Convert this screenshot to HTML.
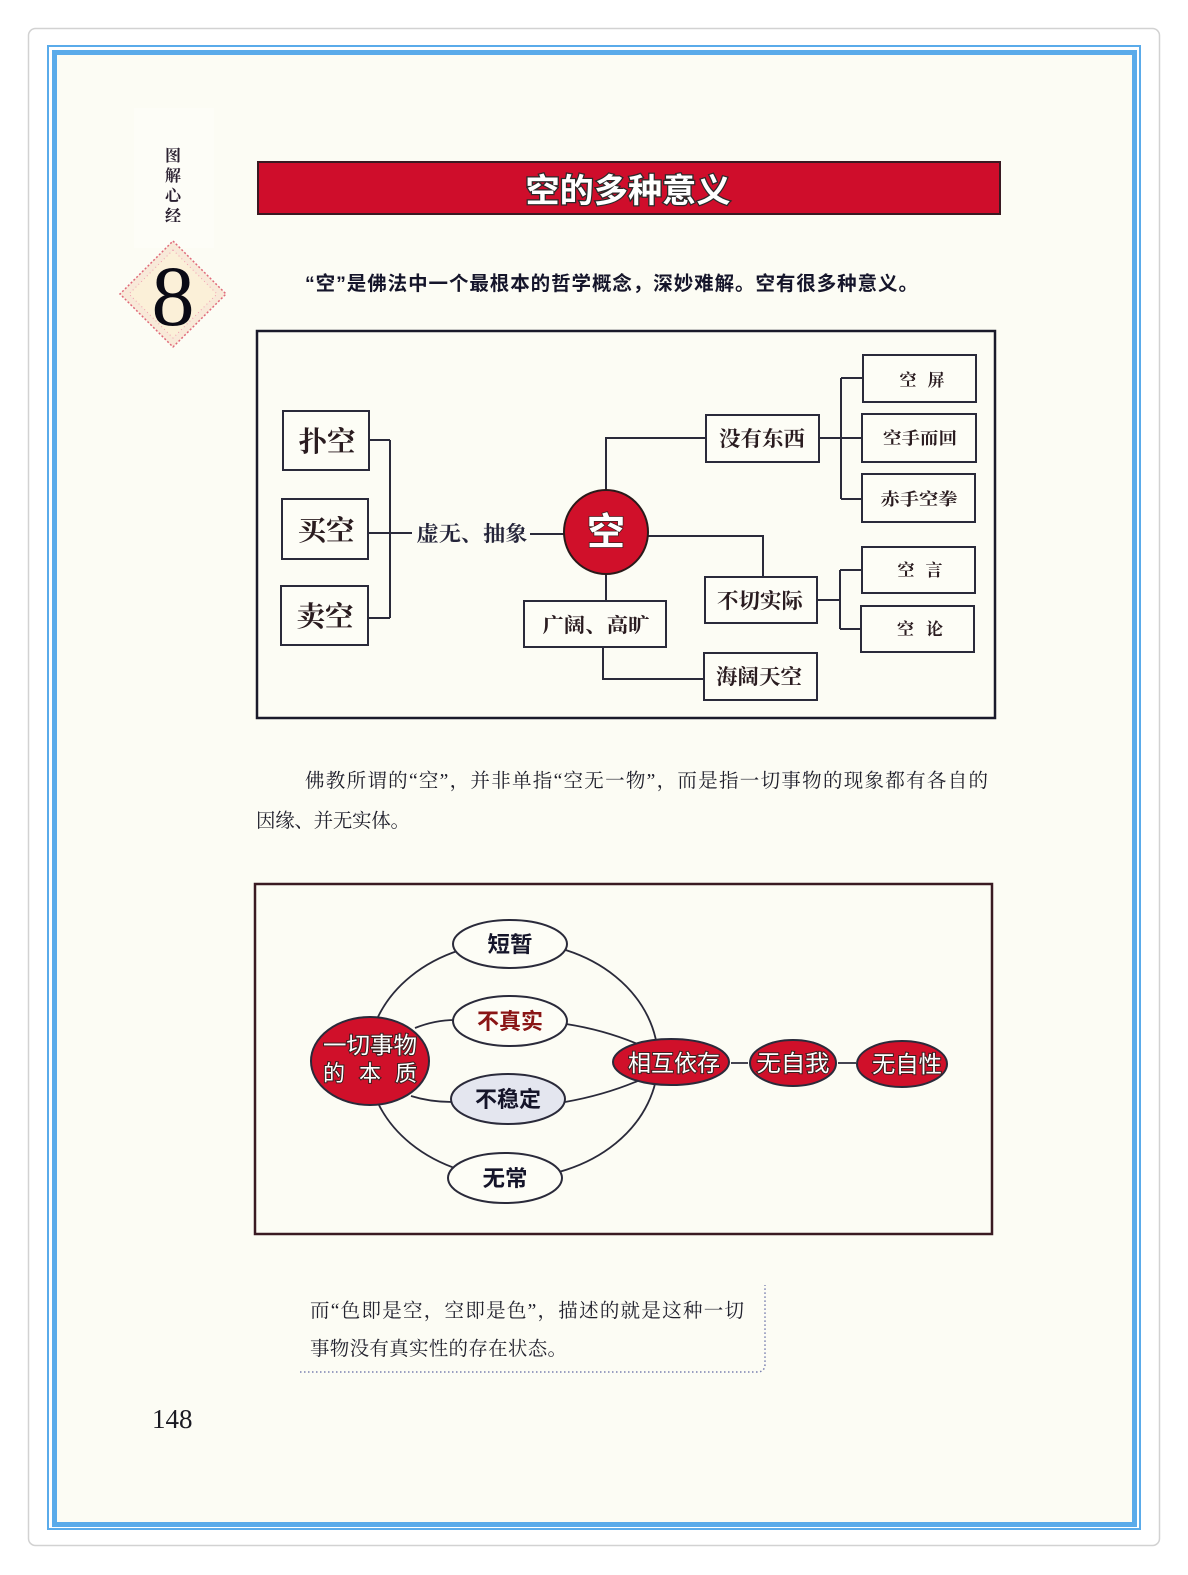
<!DOCTYPE html>
<html><head><meta charset="utf-8">
<style>
html,body{margin:0;padding:0;background:#fff;}
svg{display:block}
.serif{font-family:"Liberation Serif","Noto Serif CJK SC",serif;}
.sans{font-family:"Liberation Sans","Noto Sans CJK SC",sans-serif;}
</style></head><body>
<svg width="1188" height="1575" viewBox="0 0 1188 1575" xmlns="http://www.w3.org/2000/svg">
<!-- page frame -->
<rect x="28.5" y="28.5" width="1131" height="1517" rx="7" fill="#fff" stroke="#d2d2d2" stroke-width="1.5"/>
<rect x="48" y="46" width="1092" height="1483" fill="none" stroke="#5aabea" stroke-width="2"/>
<rect x="54.5" y="52.5" width="1080" height="1472" fill="#fcfcf4" stroke="#5aabea" stroke-width="5"/>

<!-- sidebar -->
<rect x="134" y="108" width="80" height="140" fill="#fdfdf7"/>
<g class="serif" font-size="16" font-weight="700" fill="#2a2030" text-anchor="middle">
<text x="173" y="161">图</text>
<text x="173" y="181">解</text>
<text x="173" y="201">心</text>
<text x="173" y="221">经</text>
</g>
<polygon points="173,241 226,294 173,347 120,294" fill="#f8e9d8" stroke="#e06a7a" stroke-width="1.5" stroke-dasharray="2 2"/>
<polygon points="173,250 217,294 173,338 129,294" fill="#fbf0d8" stroke="#f0a0b0" stroke-width="1" stroke-dasharray="1 3"/>
<text x="173" y="325" font-family="Liberation Serif, serif" font-size="86" fill="#0a0a14" text-anchor="middle">8</text>

<!-- title bar -->
<rect x="258" y="162" width="742" height="52" fill="#cf0d2b" stroke="#3a1a22" stroke-width="2"/>
<text x="628" y="202" class="sans" font-size="33" font-weight="700" fill="#fff" stroke="#2a2a2a" stroke-width="2.5" paint-order="stroke" text-anchor="middle" textLength="205" lengthAdjust="spacingAndGlyphs">空的多种意义</text>

<!-- intro -->
<text x="305" y="290" class="sans" font-size="19.5" font-weight="700" fill="#15152a" textLength="613" lengthAdjust="spacing">“空”是佛法中一个最根本的哲学概念，深妙难解。空有很多种意义。</text>

<!-- diagram 1 -->
<rect x="257" y="331" width="738" height="387" fill="none" stroke="#1a1a2a" stroke-width="2.5"/>
<g fill="none" stroke="#2a2a3a" stroke-width="2">
<path d="M369,440 H390 M368,533 H390 M368,618 H390 M390,440 V618 M390,533 H412"/>
<path d="M530,534 H564"/>
<path d="M606,490 V438 H706"/>
<path d="M606,574 V601"/>
<path d="M603,647 V679 H704"/>
<path d="M648,536 H763 V577"/>
<path d="M819,438 H862 M841,378 V499 M841,378 H863 M841,499 H862"/>
<path d="M817,600 H840 M840,570 V629 M840,570 H862 M840,629 H861"/>
</g>
<g fill="#fdfdf6" stroke="#2a2a3a" stroke-width="2">
<rect x="283" y="411" width="86" height="59"/>
<rect x="282" y="499" width="86" height="60"/>
<rect x="281" y="586" width="87" height="59"/>
<rect x="524" y="601" width="142" height="46"/>
<rect x="706" y="415" width="113" height="47"/>
<rect x="705" y="577" width="112" height="46"/>
<rect x="704" y="653" width="113" height="47"/>
<rect x="863" y="355" width="113" height="47"/>
<rect x="862" y="414" width="114" height="48"/>
<rect x="862" y="474" width="113" height="48"/>
<rect x="862" y="547" width="113" height="46"/>
<rect x="861" y="606" width="113" height="46"/>
</g>
<circle cx="606" cy="532" r="42" fill="#d0102a" stroke="#2a1a1a" stroke-width="2"/>
<text x="606" y="545" class="sans" font-size="38" font-weight="700" fill="#fff" stroke="#3a2020" stroke-width="1.5" paint-order="stroke" text-anchor="middle">空</text>

<g class="serif" font-weight="700" fill="#2a1c20" text-anchor="middle">
<text x="327" y="451" font-size="28" textLength="57" lengthAdjust="spacingAndGlyphs">扑空</text>
<text x="326" y="540" font-size="28" textLength="57" lengthAdjust="spacingAndGlyphs">买空</text>
<text x="325" y="626" font-size="28" textLength="57" lengthAdjust="spacingAndGlyphs">卖空</text>
<text x="472" y="541" font-size="21" fill="#25253a" textLength="111" lengthAdjust="spacingAndGlyphs">虚无、抽象</text>
<text x="596" y="632" font-size="20" textLength="107" lengthAdjust="spacingAndGlyphs">广阔、高旷</text>
<text x="762" y="446" font-size="21" textLength="86" lengthAdjust="spacingAndGlyphs">没有东西</text>
<text x="760" y="608" font-size="21" textLength="86" lengthAdjust="spacingAndGlyphs">不切实际</text>
<text x="759" y="684" font-size="21" textLength="86" lengthAdjust="spacingAndGlyphs">海阔天空</text>
<text x="922" y="386" font-size="17" textLength="45" lengthAdjust="spacing">空　屏</text>
<text x="920" y="444" font-size="17" textLength="74" lengthAdjust="spacingAndGlyphs">空手而回</text>
<text x="919" y="505" font-size="17" textLength="77" lengthAdjust="spacingAndGlyphs">赤手空拳</text>
<text x="920" y="576" font-size="17" textLength="45" lengthAdjust="spacing">空　言</text>
<text x="920" y="635" font-size="17" textLength="46" lengthAdjust="spacing">空　论</text>
</g>

<!-- paragraph -->
<g class="serif" font-size="19.5" fill="#1e1e2a">
<text x="305" y="787" textLength="683" lengthAdjust="spacing">佛教所谓的“空”，并非单指“空无一物”，而是指一切事物的现象都有各自的</text>
<text x="256" y="827" textLength="154" lengthAdjust="spacing">因缘、并无实体。</text>
</g>

<!-- diagram 2 -->
<rect x="255" y="884" width="737" height="350" fill="none" stroke="#3a1a22" stroke-width="2.5"/>
<ellipse cx="513" cy="1060" rx="145" ry="118" fill="none" stroke="#2a2a3a" stroke-width="1.8"/>
<g fill="none" stroke="#2a2a3a" stroke-width="1.8">
<path d="M415,1028 Q435,1020 455,1020"/>
<path d="M566,1024 Q605,1030 640,1045"/>
<path d="M411,1096 Q430,1102 452,1102"/>
<path d="M565,1102 Q605,1095 640,1080"/>
<path d="M731,1063 H748 M838,1063 H856"/>
</g>
<g stroke="#2a2a3a" stroke-width="2">
<ellipse cx="510" cy="944" rx="57" ry="24" fill="#fdfdf6"/>
<ellipse cx="510" cy="1021" rx="57" ry="25" fill="#fdfdf6"/>
<ellipse cx="508" cy="1099" rx="57" ry="25" fill="#e4e6ef"/>
<ellipse cx="505" cy="1178" rx="57" ry="25" fill="#fdfdf6"/>
<ellipse cx="370" cy="1061" rx="59" ry="44" fill="#d0102a"/>
<ellipse cx="671" cy="1062" rx="58" ry="23" fill="#d0102a"/>
<ellipse cx="793" cy="1063" rx="43" ry="23" fill="#d0102a"/>
<ellipse cx="902" cy="1064" rx="45" ry="23" fill="#d0102a"/>
</g>
<g class="sans" font-weight="700" text-anchor="middle">
<text x="510" y="952" font-size="22" fill="#15152a" textLength="45" lengthAdjust="spacingAndGlyphs">短暂</text>
<text x="510" y="1029" font-size="22" fill="#8a1515" textLength="66" lengthAdjust="spacingAndGlyphs">不真实</text>
<text x="508" y="1107" font-size="22" fill="#15152a" textLength="66" lengthAdjust="spacingAndGlyphs">不稳定</text>
<text x="505" y="1186" font-size="22" fill="#15152a" textLength="45" lengthAdjust="spacingAndGlyphs">无常</text>
</g>
<g class="sans" font-weight="400" fill="#fff" stroke="#3a2020" stroke-width="2" paint-order="stroke" text-anchor="middle">
<text x="370" y="1053" font-size="23" textLength="94" lengthAdjust="spacingAndGlyphs">一切事物</text>
<text x="370" y="1081" font-size="22" textLength="94" lengthAdjust="spacing">的 本 质</text>
<text x="674" y="1071" font-size="23" textLength="92" lengthAdjust="spacingAndGlyphs">相互依存</text>
<text x="793" y="1071" font-size="23" textLength="73" lengthAdjust="spacingAndGlyphs">无自我</text>
<text x="907" y="1072" font-size="23" textLength="70" lengthAdjust="spacingAndGlyphs">无自性</text>
</g>

<!-- note box -->
<path d="M300,1372 H757 Q765,1372 765,1364 V1285" fill="none" stroke="#7a80b0" stroke-width="1.5" stroke-dasharray="1.5 2.5"/>
<g class="serif" font-size="19.5" fill="#22222e">
<text x="310" y="1317" textLength="434" lengthAdjust="spacing">而“色即是空，空即是色”，描述的就是这种一切</text>
<text x="310" y="1355" textLength="257" lengthAdjust="spacing">事物没有真实性的存在状态。</text>
</g>

<!-- page number -->
<text x="152" y="1428" font-family="Liberation Serif, serif" font-size="27" fill="#1a1a22">148</text>
</svg>
</body></html>
